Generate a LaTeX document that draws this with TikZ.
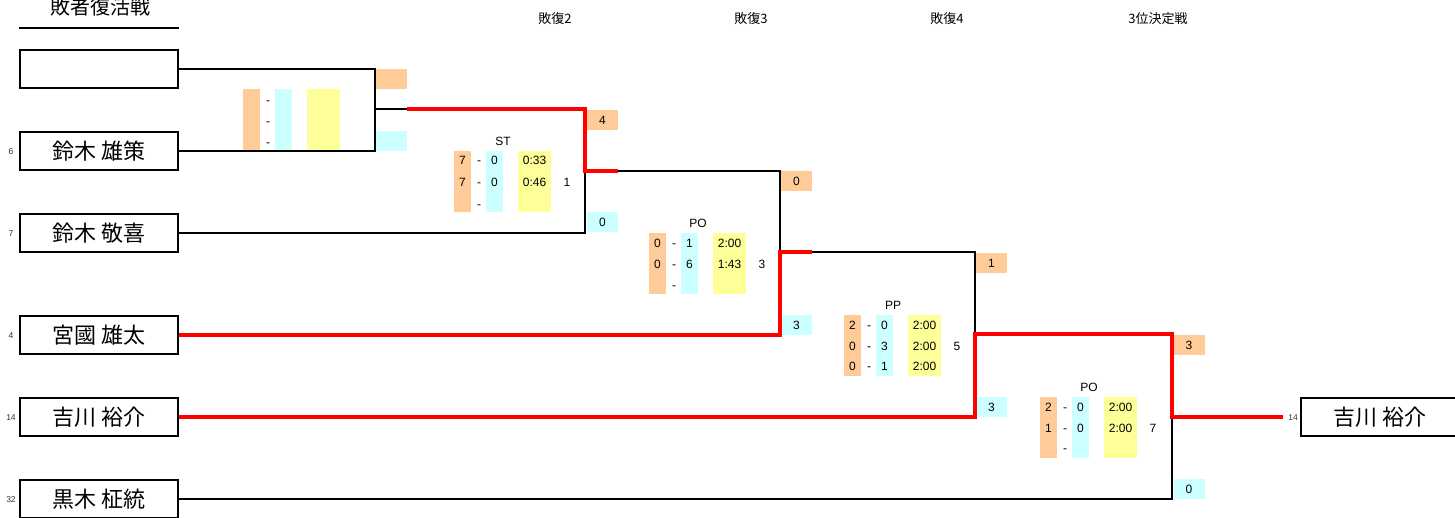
\documentclass[tikz,border=0pt]{standalone}
\usepackage{fontspec}
\setmainfont{Liberation Sans}
\newfontfamily\jp{Noto Sans CJK JP}
\definecolor{orng}{HTML}{FFCC99}
\definecolor{cyn}{HTML}{CCFFFF}
\definecolor{ylw}{HTML}{FFFF99}
\definecolor{winred}{HTML}{FF0000}
\tikzset{
  namebox/.style={draw, line width=2pt, minimum width=158pt, minimum height=38pt, inner sep=0pt, font=\jp\fontsize{22}{22}\selectfont},
  seed/.style={font=\fontsize{8.5}{8.5}\selectfont, text=black!80, inner sep=0pt},
  hdr/.style={font=\jp\fontsize{13}{13}\selectfont, inner sep=0pt},
  sc/.style={font=\fontsize{12}{12}\selectfont, inner sep=0pt, text height=8.6pt, text depth=0pt},
  obox/.style={fill=orng, minimum width=31pt, minimum height=20pt, inner sep=0pt, font=\fontsize{12}{12}\selectfont},
  cbox/.style={fill=cyn, minimum width=31pt, minimum height=20pt, inner sep=0pt, font=\fontsize{12}{12}\selectfont},
  blk/.style={draw=black, line width=2pt},
  rd/.style={draw=winred, line width=3.5pt},
}
\newcommand\mblock[5]{%
  \fill[orng] (#1,#2) rectangle ++(17,61);
  \fill[cyn] (#1+32,#2) rectangle ++(17,61);
  \fill[ylw] (#1+64,#2) rectangle ++(33,61);
  \node[sc] (#5lab) at (#1+49,#2-10) {#3};
  \node[sc] (#5res) at (#1+113,#2+31) {#4};
}
\newcommand\mrow[6]{%
  \node[sc] (#6a) at (#1+8.5,#2) {#3};
  \node[sc] (#6d) at (#1+25,#2) {-};
  \node[sc] (#6b) at (#1+40.5,#2) {#4};
  \node[sc] (#6t) at (#1+80.5,#2) {#5};
}
\begin{document}
\begin{tikzpicture}[x=1pt,y=-1pt]
\useasboundingbox (0,0) rectangle (1455,517);
\clip (0,0) rectangle (1455,517);

% header
\node[font=\jp\fontsize{20}{20}\selectfont, inner sep=0pt] (title) at (100,6.5) {敗者復活戦};
\coordinate (ulA) at (19,28);
\coordinate (ulB) at (179,28);
\draw[line width=2pt] (ulA) -- (ulB);
\node[hdr] (h2) at (555,18.5) {敗復2};
\node[hdr] (h3) at (751,18.5) {敗復3};
\node[hdr] (h4) at (947,18.5) {敗復4};
\node[hdr] (h5) at (1158,18.5) {3位決定戦};

% name boxes
\node[namebox] (b1) at (99,69) {};
\node[namebox] (b2) at (99,151) {鈴木 雄策};
\node[namebox] (b3) at (99,233) {鈴木 敬喜};
\node[namebox] (b4) at (99,335) {宮國 雄太};
\node[namebox] (b5) at (99,417) {吉川 裕介};
\node[namebox] (b6) at (99,499) {黒木 柾統};
\node[namebox, anchor=west] (bw) at (1300,417) {吉川 裕介};

\node[seed] (s2) at (11,152) {6};
\node[seed] (s3) at (11,234) {7};
\node[seed] (s4) at (11,336) {4};
\node[seed] (s5) at (11,418) {14};
\node[seed] (s6) at (11,500) {32};
\node[seed] (sw) at (1293,418) {14};

% joints
\coordinate (m1) at (375,109);
\coordinate (m1e) at (407,109);
\coordinate (m2) at (585,171);
\coordinate (m2e) at (618,171);
\coordinate (m3) at (780,252);
\coordinate (m3e) at (812,252);
\coordinate (m4) at (975,334);
\coordinate (m5) at (1172,417);
\coordinate (fin) at (1283,417);

% score boxes
\node[obox] (o1) at (391,79) {};
\node[cbox] (c1) at (391,140.5) {};
\node[obox] (o2) at (602.5,120) {4};
\node[cbox] (c2) at (602.5,222) {0};
\node[obox] (o3) at (796.5,181) {0};
\node[cbox] (c3) at (796.5,325) {3};
\node[obox] (o4) at (991.5,263) {1};
\node[cbox] (c4) at (991.5,407) {3};
\node[obox] (o5) at (1189,345) {3};
\node[cbox] (c5) at (1189,489) {0};

% black connectors
\draw[blk] (b1.east) -| (m1);
\draw[blk] (b2.east) -| (m1);
\draw[blk] (m1) -- (m1e);
\draw[blk] (b3.east) -| (m2);
\draw[blk] (m2e) -| (m3);
\draw[blk] (m3e) -| (m4);
\draw[blk] (b6.east) -| (m5);
% red connectors
\draw[rd] (m1e) -| (m2) -- (m2e);
\draw[rd] (b4.east) -| (m3) -- (m3e);
\draw[rd] (b5.east) -| (m4) -| (m5) -- (fin);

% match 1
\mblock{243}{89}{}{}{ma}
\node[sc] (mad1) at (268,100) {-};
\node[sc] (mad2) at (268,121) {-};
\node[sc] (mad3) at (268,142) {-};
% match 2 ST
\mblock{454}{151}{ST}{1}{mb}
\mrow{454}{160}{7}{0}{0:33}{mbr1}
\mrow{454}{182}{7}{0}{0:46}{mbr2}
\node[sc] (mbd3) at (479,204) {-};
% match 3 PO
\mblock{649}{233}{PO}{3}{mc}
\mrow{649}{243}{0}{1}{2:00}{mcr1}
\mrow{649}{264}{0}{6}{1:43}{mcr2}
\node[sc] (mcd3) at (674,285) {-};
% match 4 PP
\mblock{844}{315}{PP}{5}{md}
\mrow{844}{325}{2}{0}{2:00}{mdr1}
\mrow{844}{346}{0}{3}{2:00}{mdr2}
\mrow{844}{366}{0}{1}{2:00}{mdr3}
% match 5 PO
\mblock{1040}{397}{PO}{7}{me}
\mrow{1040}{407}{2}{0}{2:00}{mer1}
\mrow{1040}{428}{1}{0}{2:00}{mer2}
\node[sc] (med3) at (1065,448) {-};
\end{tikzpicture}
\end{document}
